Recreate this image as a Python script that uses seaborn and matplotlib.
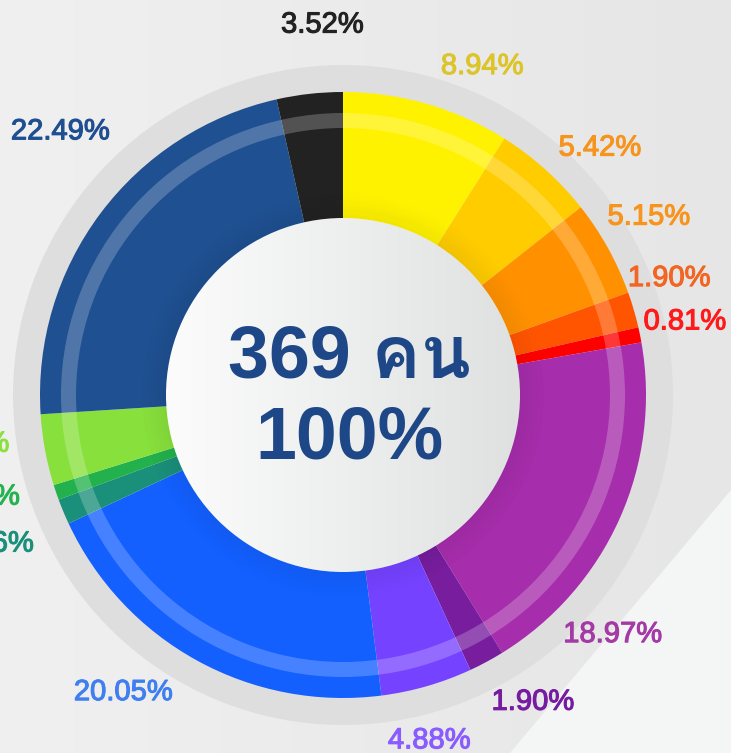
import numpy as np
import matplotlib
matplotlib.use("Agg")
import matplotlib.pyplot as plt
import matplotlib.patheffects as pe
import seaborn as sns
from matplotlib import font_manager
from matplotlib.ft2font import FT2Font
from matplotlib.patches import Circle, Wedge, Polygon

sns.set_theme(style="white")

# ---- data ----
shares = [8.94, 5.42, 5.15, 1.90, 0.81, 18.97, 1.90, 4.88, 20.05,
          1.36, 0.81, 3.79, 22.49, 3.52]
slice_colors = ["#FFF200", "#FFCC00", "#FF9100", "#FF5500", "#FF0000",
                "#A62DAB", "#771D9E", "#7542FF", "#1360FF",
                "#1A8F7A", "#22B14C", "#88E03C", "#1F5091", "#222222"]
label_colors = ["#DCC42A", "#F7941D", "#F7941D", "#F26522", "#FF1A1A",
                "#A43AA5", "#751CA0", "#8A5CFF", "#3F7FF0",
                "#1A8F7A", "#25B34F", "#8CE03E", "#1F4F91", "#222222"]
total_people = 369
center_unit = "คน"

# ---- layout (label placement, degrees clockwise from top / pixels) ----
label_shift = [6.7, 3.9, -1.5, -3.7, -1.0, 17.2, -3.6, 2.0, 7.9,
               0.0, 3.5, 3.4, 6.4, 3.2]
label_radius = [359, 358, 355, 347, 350, 359, 359, 354, 368,
                380, 378, 378, 388, 373]

W, H = 731, 753
cx, cy = 343, H - 395
R_OUT, R_IN = 303, 177


def thai_font():
    for f in font_manager.fontManager.ttflist:
        try:
            if FT2Font(f.fname).get_char_index(ord("ค")):
                return f.name
        except Exception:
            pass
    return None


fams = ["Liberation Sans"]
th = thai_font()
if th:
    fams.append(th)
fams.append("DejaVu Sans")
plt.rcParams["font.family"] = fams

fig = plt.figure(figsize=(W / 100, H / 100), dpi=100)
ax = fig.add_axes([0, 0, 1, 1])

# background gradient
grad = np.linspace(0, 1, 256)
c0 = np.array([0xF0, 0xF0, 0xF0]) / 255
c1 = np.array([0xE6, 0xE6, 0xE6]) / 255
bg = (c0[None, :] * (1 - grad[:, None]) + c1[None, :] * grad[:, None])[None, :, :]
ax.imshow(bg, extent=(0, W, 0, H), aspect="auto", zorder=0)
ax.add_patch(Polygon([(731, H - 490), (510, 0), (731, 0)], closed=True,
                     facecolor="#F4F5F5", edgecolor="none", zorder=0.5))

# outer gray ring
ax.add_patch(Wedge((cx, cy), 330, 0, 360, width=330 - R_OUT + 2,
                   facecolor="#DEDEDE", edgecolor="none", zorder=1))

wedges, _ = ax.pie(shares, colors=slice_colors, radius=R_OUT, center=(cx, cy),
                   startangle=90, counterclock=False,
                   wedgeprops=dict(width=R_OUT - R_IN + 10, linewidth=0))
for w in wedges:
    w.set_zorder(2)

# translucent highlight band
ax.add_patch(Wedge((cx, cy), 282, 0, 360, width=15,
                   facecolor="white", alpha=0.22, edgecolor="none", zorder=3))
# soft shadow near the inner circle
for k in range(8):
    ax.add_patch(Wedge((cx, cy), R_IN + 3 * (k + 1), 0, 360, width=3,
                       facecolor="black", alpha=0.05 * (1 - k / 8),
                       edgecolor="none", zorder=3))

# inner circle with gradient
circ = Circle((cx, cy), R_IN, facecolor="none", edgecolor="none", zorder=4)
ax.add_patch(circ)
g0 = np.array([0xFC, 0xFC, 0xFC]) / 255
g1 = np.array([0xDF, 0xE1, 0xE1]) / 255
ig = (g0[None, :] * (1 - grad[:, None]) + g1[None, :] * grad[:, None])[None, :, :]
im = ax.imshow(ig, extent=(cx - R_IN, cx + R_IN, cy - R_IN, cy + R_IN),
               aspect="auto", zorder=4)
im.set_clip_path(circ)

# center text
ax.text(cx + 6, H - 377, f"{total_people} {center_unit}", ha="center", va="baseline",
        fontsize=53, fontweight="bold", color="#1D4786", zorder=5)
ax.text(cx + 6, H - 458, "100%", ha="center", va="baseline",
        fontsize=53, fontweight="bold", color="#1D4786", zorder=5)

# percentage labels
cum = np.cumsum([0] + shares[:-1])
for i, s in enumerate(shares):
    mid = (cum[i] + s / 2) / 100 * 360 + label_shift[i]
    a = np.deg2rad(90 - mid)
    x = cx + label_radius[i] * np.cos(a)
    y = cy + label_radius[i] * np.sin(a) - 2
    ax.text(x, y, f"{s:.2f}%", ha="center", va="center", fontsize=21,
            color=label_colors[i], zorder=5,
            path_effects=[pe.withStroke(linewidth=0.8, foreground=label_colors[i])])

ax.set_xlim(0, W)
ax.set_ylim(0, H)
ax.set_aspect("equal")
ax.axis("off")
fig.savefig("out.png", dpi=100)
